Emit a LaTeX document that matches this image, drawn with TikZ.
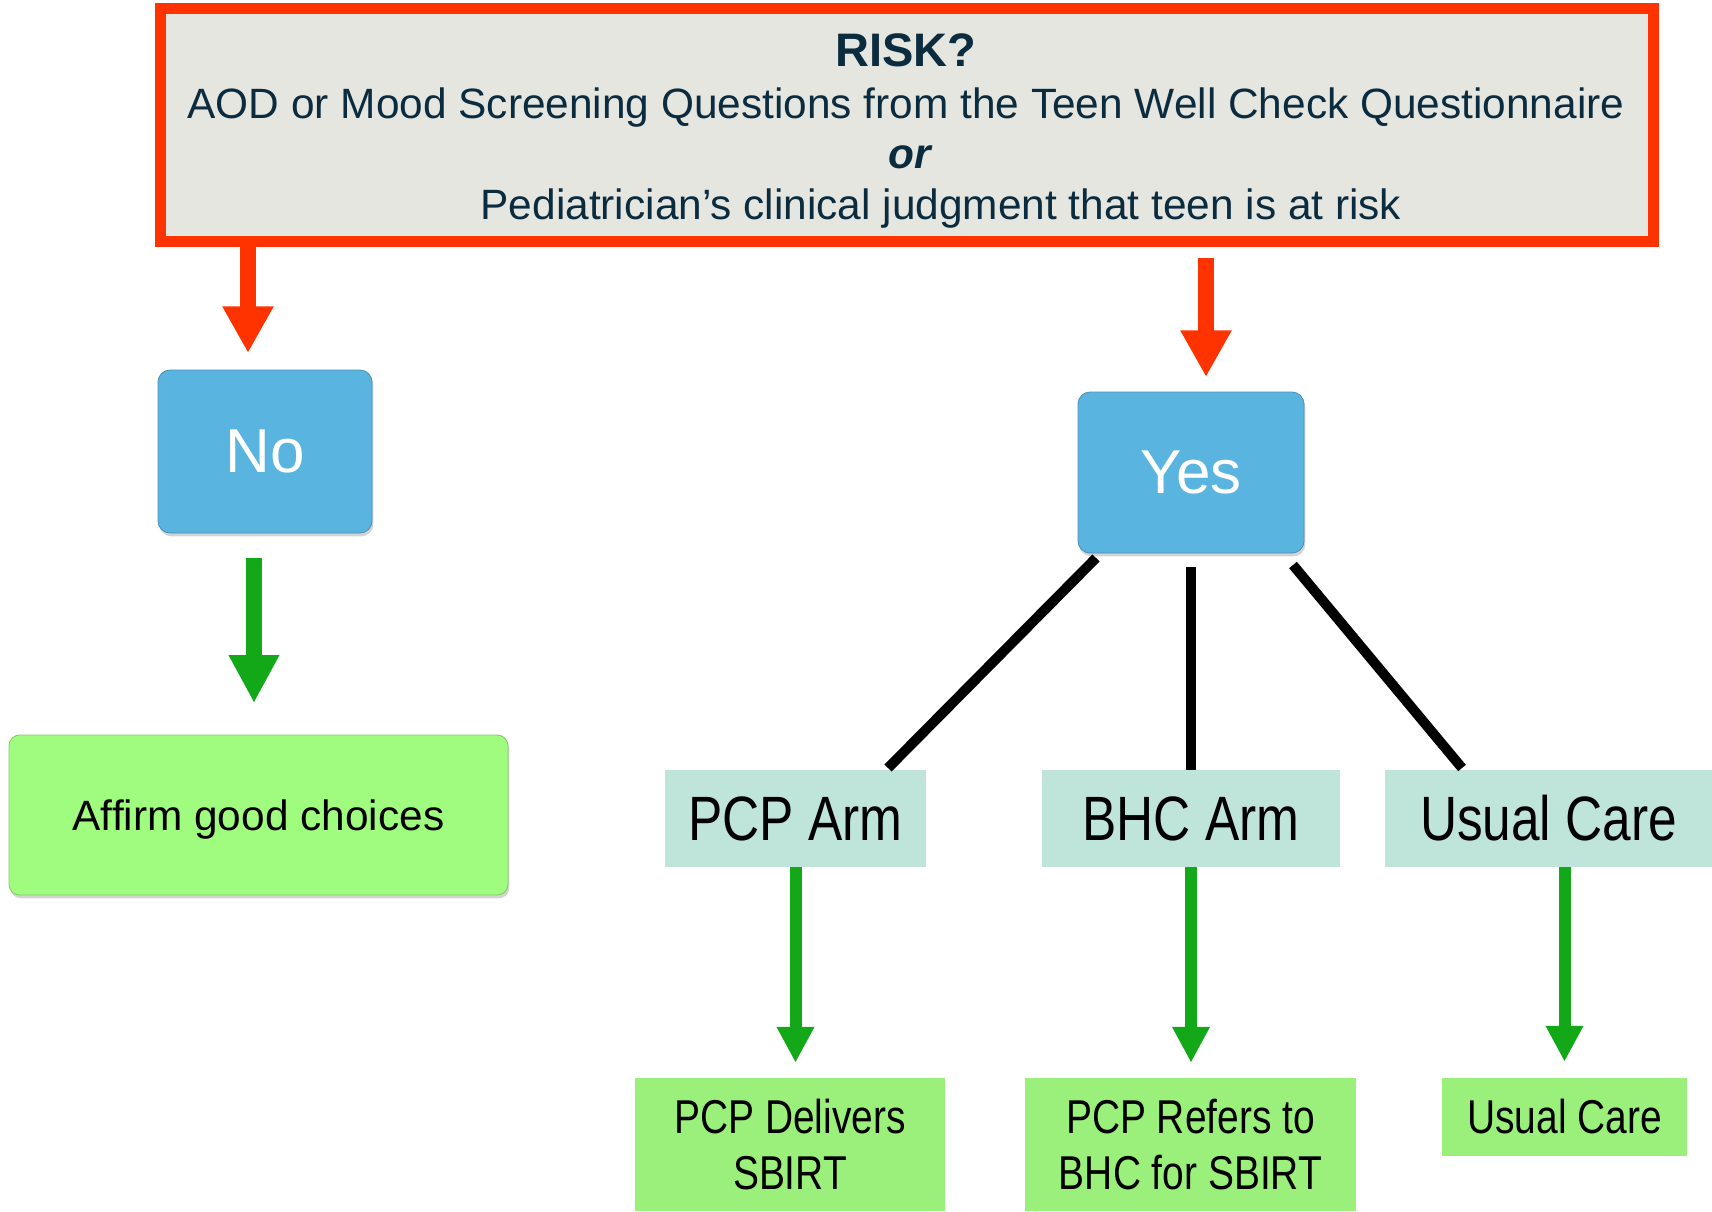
\documentclass[tikz,border=0pt]{standalone}
\usepackage{fontspec}
\setmainfont{Liberation Sans}
\newfontfamily\narrowsans[FakeStretch=0.82]{Liberation Sans}
\usetikzlibrary{arrows.meta,shadows}

\definecolor{riskred}{HTML}{FF3300}
\definecolor{riskfill}{HTML}{E5E6E0}
\definecolor{riskink}{HTML}{0B2B3F}
\definecolor{answerblue}{HTML}{5AB4E0}
\definecolor{affirmgreen}{HTML}{A0FC7E}
\definecolor{armteal}{HTML}{BFE5DA}
\definecolor{leafgreen}{HTML}{9AF07A}
\definecolor{arrowgreen}{HTML}{12A818}

\begin{document}
\begin{tikzpicture}[x=0.75pt,y=0.75pt,yscale=-1,
	riskbox/.style={draw=riskred, line width=8.25pt, fill=riskfill, inner sep=0pt},
	risktext/.style={text=riskink, anchor=base, inner sep=0pt, font=\fontsize{31.8}{38}\selectfont},
	answer/.style={rounded corners=9pt, fill=answerblue, draw=answerblue!80!black, line width=0.6pt, text=white, inner sep=0pt,
		font=\fontsize{46.5}{50}\selectfont, drop shadow={shadow xshift=1pt, shadow yshift=-2.5pt, opacity=0.35}},
	affirmbox/.style={rounded corners=8pt, fill=affirmgreen, draw=affirmgreen!80!black, line width=0.6pt, inner sep=0pt, text depth=0pt,
		font=\fontsize{31.8}{38}\selectfont, drop shadow={shadow xshift=1pt, shadow yshift=-2.5pt, opacity=0.35}},
	armbox/.style={fill=armteal, inner sep=0pt, font=\narrowsans\fontsize{47}{50}\selectfont},
	leafbox/.style={fill=leafgreen, inner sep=0pt, align=center, font=\narrowsans\fontsize{35.6}{42}\selectfont},
	redarrow/.style={draw=riskred, line width=12pt, -{Triangle[width=36pt,length=35pt]}},
	bigarrow/.style={draw=arrowgreen, line width=12pt, -{Triangle[width=35.5pt,length=36pt]}},
	armarrow/.style={draw=arrowgreen, line width=9pt, -{Triangle[width=26.5pt,length=27pt]}},
	branch/.style={draw=black, line width=7.5pt}]
	\useasboundingbox (0,0) rectangle (1712,1211);

	% question box
	\node[riskbox, minimum width=1119.75pt, minimum height=174.75pt] (risk) at (906.5,125) {};
	\node[risktext, font=\bfseries\fontsize{35.25}{40}\selectfont] (riskhead) at (906,66) {RISK?};
	\node[risktext] (screenq) at (906,118) {AOD or Mood Screening Questions from the Teen Well Check Questionnaire};
	\node[risktext, font=\bfseries\itshape\fontsize{31.8}{38}\selectfont] (orline) at (910,168.5) {or};
	\node[risktext] (judgment) at (941,219) {Pediatrician’s clinical judgment that teen is at risk};

	% answers
	\node[answer, minimum width=160.5pt, minimum height=122.25pt] (no) at (265,451.5) {No};
	\node[answer, minimum width=169.5pt, minimum height=120.75pt] (yes) at (1191,472.5) {Yes};
	\node[affirmbox, minimum width=374.25pt, minimum height=120pt] (affirm) at (258.5,815) {Affirm good choices};

	% study arms
	\node[armbox, minimum width=195.75pt, minimum height=72.75pt] (pcparm) at (795.5,818.5) {PCP Arm};
	\node[armbox, minimum width=223.5pt, minimum height=72.75pt] (bhcarm) at (1191,818.5) {BHC Arm};
	\node[armbox, minimum width=245.25pt, minimum height=72.75pt] (usualarm) at (1548.5,818.5) {Usual Care};

	\node[leafbox, minimum width=232.5pt, minimum height=99.75pt] (pcpdel) at (790,1144.5) {PCP Delivers\\SBIRT};
	\node[leafbox, minimum width=248.25pt, minimum height=99.75pt] (bhcref) at (1190.5,1144.5) {PCP Refers to\\BHC for SBIRT};
	\node[leafbox, minimum width=183.75pt, minimum height=58.5pt] (usualcare) at (1564.5,1117) {Usual Care};

	% connectors
	\coordinate (noin) at (248,353);
	\coordinate (yesin) at (1206,377);
	\coordinate (affirmin) at (254,703);
	\draw[redarrow] (risk.south -| noin) -- (noin);
	\draw[redarrow, shorten <=8.6pt] (risk.south -| yesin) -- (yesin);

	\draw[bigarrow, shorten <=18.4pt] (no.south -| affirmin) -- (affirmin);

	\coordinate (yesl) at (1096,558);
	\coordinate (pcptop) at (888,768);
	\coordinate (yesr) at (1293,565);
	\coordinate (usualtop) at (1462,768);
	\draw[branch] (yesl) -- (pcptop);
	\draw[branch, shorten <=10.5pt] (yes.south) -- (bhcarm.north);
	\draw[branch] (yesr) -- (usualtop);

	\draw[armarrow, shorten >=11.25pt] (pcparm.south) -- (pcparm.south |- pcpdel.north);
	\draw[armarrow, shorten >=11.25pt] (bhcarm.south) -- (bhcarm.south |- bhcref.north);
	\draw[armarrow, shorten >=12pt] (usualcare.north |- usualarm.south) -- (usualcare.north);
\end{tikzpicture}
\end{document}
